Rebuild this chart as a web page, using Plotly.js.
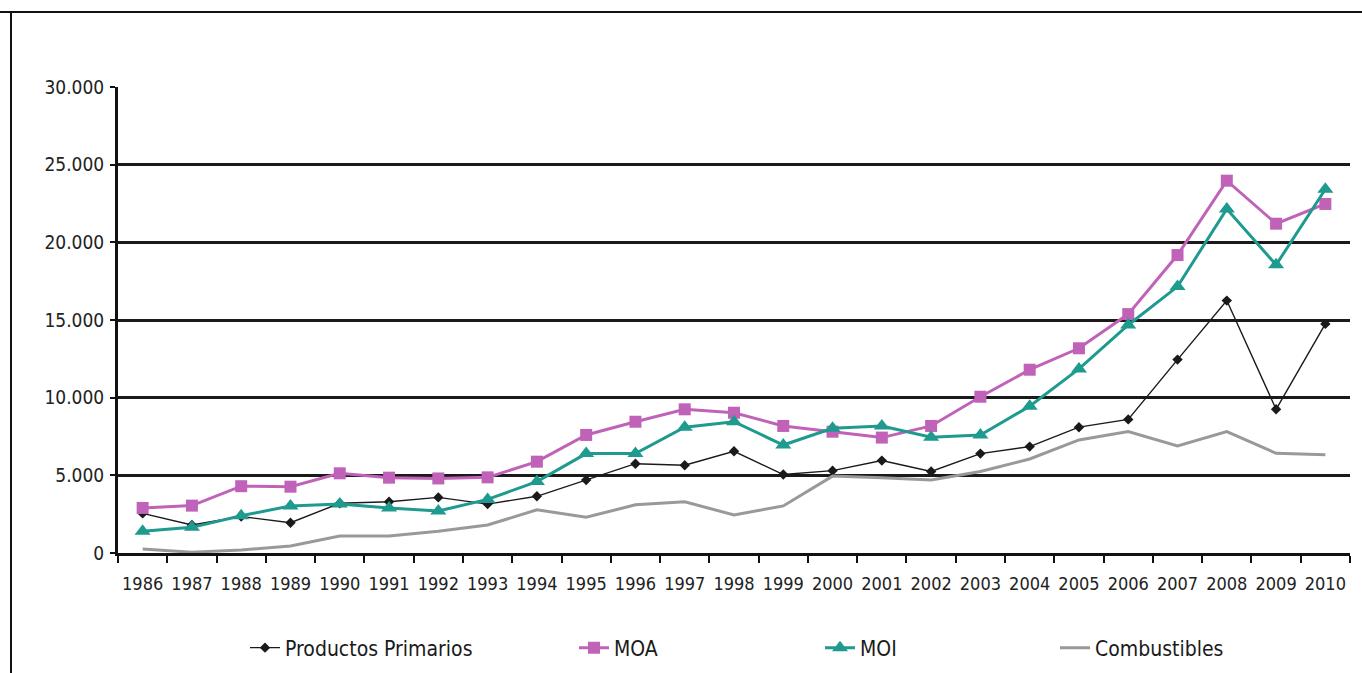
<!DOCTYPE html>
<html>
<head>
<meta charset="utf-8">
<script src="https://cdn.plot.ly/plotly-3.0.1.min.js"></script>
<style>
html,body{margin:0;padding:0;background:#fff;}
#chart{width:1362px;height:673px;}
</style>
</head>
<body>
<div id="chart"></div>
<script>
const years = ["1986","1987","1988","1989","1990","1991","1992","1993","1994","1995","1996","1997","1998","1999","2000","2001","2002","2003","2004","2005","2006","2007","2008","2009","2010"];
const productosPrimarios = [2550,1800,2350,1950,3200,3300,3580,3150,3650,4700,5750,5650,6550,5050,5300,5950,5250,6400,6850,8100,8600,12450,16250,9250,14750];
const moa = [2900,3050,4300,4270,5130,4850,4800,4870,5880,7600,8450,9250,9030,8180,7810,7430,8180,10060,11800,13180,15380,19180,23970,21200,22470];
const moi = [1400,1650,2400,3030,3160,2900,2700,3450,4600,6400,6400,8100,8450,6950,8030,8180,7450,7600,9450,11850,14680,17150,22150,18550,23420];
const combustibles = [250,50,200,450,1100,1100,1400,1800,2780,2300,3100,3300,2450,3030,4950,4850,4700,5250,6050,7280,7820,6900,7820,6420,6320];
const seriesNames = ["Productos Primarios","MOA","MOI","Combustibles"];

const FONT = '"DejaVu Sans Condensed","Liberation Sans Narrow","Liberation Sans",Arial,sans-serif';

const traces = [
  {x: years, y: productosPrimarios, name: seriesNames[0], type: 'scatter', mode: 'lines+markers',
   line: {color: '#1a1a1a', width: 1.4}, marker: {symbol: 'diamond', size: 8, color: '#1a1a1a'}, legend: 'legend'},
  {x: years, y: moa, name: seriesNames[1], type: 'scatter', mode: 'lines+markers',
   line: {color: '#c062b8', width: 3}, marker: {symbol: 'square', size: 12, color: '#c062b8'}, legend: 'legend2'},
  {x: years, y: moi, name: seriesNames[2], type: 'scatter', mode: 'lines+markers',
   line: {color: '#1e9a8f', width: 3}, marker: {symbol: 'triangle-up', size: 14, color: '#1e9a8f'}, legend: 'legend3'},
  {x: years, y: combustibles, name: seriesNames[3], type: 'scatter', mode: 'lines',
   line: {color: '#999999', width: 3}, legend: 'legend4'}
];

function leg(xpx) {
  return {x: xpx/1362, y: 1 - 648/673, xref: 'container', yref: 'container', xanchor: 'left', yanchor: 'middle',
          orientation: 'h', bgcolor: 'rgba(0,0,0,0)', font: {family: FONT, size: 21, color: '#1a1a1a'}};
}

const layout = {
  width: 1362, height: 673,
  margin: {l: 118, r: 12, t: 87, b: 120},
  paper_bgcolor: '#ffffff', plot_bgcolor: '#ffffff',
  separators: ',.',
  showlegend: true,
  legend: leg(245), legend2: leg(574), legend3: leg(820), legend4: leg(1055),
  xaxis: {
    type: 'category', tickson: 'boundaries', ticks: 'outside', ticklen: 7, tickwidth: 2, tickcolor: '#111',
    showline: true, linecolor: '#111', linewidth: 3, showgrid: false, zeroline: false,
    tickangle: 0,
    tickfont: {family: FONT, size: 18, color: '#222'}, ticklabelstandoff: 12, range: [-0.5, 24.5]
  },
  yaxis: {
    range: [0, 30000], dtick: 5000, tick0: 0, tickformat: ',d',
    ticks: 'outside', ticklen: 5, tickwidth: 2, tickcolor: '#111',
    showline: true, linecolor: '#111', linewidth: 3,
    showgrid: true, gridcolor: '#1a1a1a', gridwidth: 3, zeroline: false,
    tickfont: {family: FONT, size: 19, color: '#222'}, ticklabelstandoff: 2
  },
  shapes: [
    {type: 'line', xref: 'paper', yref: 'paper', x0: -118/1232, x1: 1362/1232, y0: (553-12)/466, y1: (553-12)/466, line: {color: '#111', width: 2}},
    {type: 'line', xref: 'paper', yref: 'paper', x0: -107/1232, x1: -107/1232, y0: (553-12)/466, y1: -120/466, line: {color: '#111', width: 2}}
  ]
};

Plotly.newPlot('chart', traces, layout, {displayModeBar: false, staticPlot: true});
</script>
</body>
</html>
